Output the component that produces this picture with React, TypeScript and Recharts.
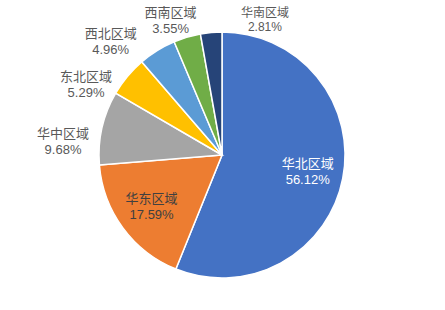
import React from "react";
import { PieChart, Pie, Cell } from "recharts";

const categories = ["华北区域", "华东区域", "华中区域", "东北区域", "西北区域", "西南区域", "华南区域"];
const shares = [56.12, 17.59, 9.68, 5.29, 4.96, 3.55, 2.81];

const COLORS = ["#4472C4", "#ED7D31", "#A5A5A5", "#FFC000", "#5B9BD5", "#70AD47", "#264478"];

// label styling: radial factor, nudge offsets, colour, size, line gap
const LABEL_STYLE = [
  { r: 0.71, dx: 0, dy: 0, color: "#FFFFFF", size: 13, gap: 16 },
  { r: 0.71, dx: 0, dy: 0, color: "#404040", size: 13, gap: 16 },
  { r: 1.3, dx: -3, dy: 22, color: "#595959", size: 13, gap: 16 },
  { r: 1.3, dx: -13, dy: 32, color: "#595959", size: 13, gap: 16 },
  { r: 1.3, dx: -27, dy: 22, color: "#595959", size: 13, gap: 16 },
  { r: 1.3, dx: -6, dy: 19, color: "#595959", size: 13, gap: 16 },
  { r: 1.3, dx: 57, dy: 24, color: "#595959", size: 12, gap: 14.5 },
];

const data = categories.map((name, i) => ({ name, value: shares[i] }));

const RADIAN = Math.PI / 180;
const CJK_FONT = '"Noto Sans CJK SC", sans-serif';
const NUM_FONT = '"Liberation Sans", Arial, sans-serif';

const renderLabel = (props: any) => {
  const { cx, cy, midAngle, outerRadius, index, name, value } = props;
  const st = LABEL_STYLE[index];
  const r = outerRadius * st.r;
  const x = cx + r * Math.cos(-midAngle * RADIAN) + st.dx;
  const y = cy + r * Math.sin(-midAngle * RADIAN) + st.dy;
  const shift = st.size * 0.36;
  return (
    <g>
      <text x={x} y={y - st.gap / 2 + shift} fill={st.color} fontSize={st.size} fontFamily={CJK_FONT} textAnchor="middle">
        {name}
      </text>
      <text x={x} y={y + st.gap / 2 + shift} fill={st.color} fontSize={st.size} fontFamily={NUM_FONT} textAnchor="middle">
        {Number(value).toFixed(2)}%
      </text>
    </g>
  );
};

export default function App() {
  return (
    <div style={{ position: "absolute", left: 0, top: 0, width: 445, height: 310, background: "#fff" }}>
      <PieChart width={445} height={310} margin={{ top: 0, right: 0, bottom: 0, left: 0 }}>
        <Pie
          data={data}
          dataKey="value"
          nameKey="name"
          cx={222}
          cy={155}
          outerRadius={123}
          startAngle={90}
          endAngle={-270}
          stroke="#FFFFFF"
          strokeWidth={1.5}
          label={renderLabel}
          labelLine={false}
          isAnimationActive={false}
        >
          {data.map((d, i) => (
            <Cell key={d.name} fill={COLORS[i]} />
          ))}
        </Pie>
      </PieChart>
    </div>
  );
}
